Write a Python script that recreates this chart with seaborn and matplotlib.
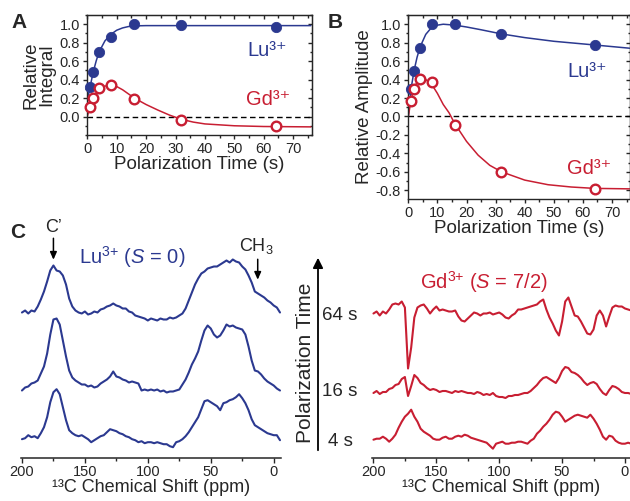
import numpy as np
import matplotlib
matplotlib.use("Agg")
import matplotlib.pyplot as plt
from matplotlib.ticker import MultipleLocator, FixedLocator
from matplotlib.patches import FancyArrowPatch
import seaborn as sns

sns.set_style("ticks")
plt.rcParams["font.family"] = ["Liberation Sans", "DejaVu Sans"]
plt.rcParams["mathtext.fontset"] = "custom"
plt.rcParams["mathtext.rm"] = "Liberation Sans"
plt.rcParams["mathtext.it"] = "Liberation Sans:italic"
plt.rcParams["mathtext.default"] = "regular"

BLUE = "#2B3990"
RED = "#C81E32"

# --- A / B : polarization build-up -------------------------------------
pol_time = [1, 2, 4, 8, 16, 32, 64]
lu_integral = [0.325, 0.48, 0.70, 0.865, 1.0, 0.99, 0.975]
gd_integral = [0.10, 0.20, 0.31, 0.34, 0.19, -0.04, -0.10]
lu_amplitude = [0.30, 0.495, 0.74, 1.0, 1.0, 0.895, 0.776]
gd_amplitude = [0.17, 0.30, 0.41, 0.37, -0.094, -0.60, -0.787]

# fitted curves
lu_fit_a_t = [0, 0.5, 1, 2, 3, 4, 6, 8, 10, 12, 14, 16, 20, 30, 45, 60, 76]
lu_fit_a = [0.17, 0.25, 0.33, 0.48, 0.60, 0.70, 0.82, 0.89, 0.935, 0.96, 0.975,
            0.982, 0.985, 0.985, 0.985, 0.985, 0.985]
gd_fit_a_t = [0, 1, 2, 4, 6, 8, 10, 12, 14, 16, 20, 24, 28, 32, 36, 40, 50, 60, 76]
gd_fit_a = [0.0, 0.12, 0.20, 0.295, 0.33, 0.34, 0.325, 0.29, 0.245, 0.20, 0.13,
            0.07, 0.015, -0.03, -0.06, -0.08, -0.10, -0.108, -0.112]
lu_fit_b_t = [0, 0.5, 1, 2, 3, 4, 6, 8, 10, 12, 16, 20, 25, 32, 40, 50, 64, 76]
lu_fit_b = [0.0, 0.17, 0.31, 0.50, 0.64, 0.75, 0.89, 0.965, 0.99, 1.0, 0.99, 0.97,
            0.94, 0.895, 0.855, 0.815, 0.775, 0.74]
gd_fit_b_t = [0, 1, 2, 3, 4, 6, 8, 10, 12, 14, 15, 16, 20, 24, 28, 32, 40, 48, 56, 64, 76]
gd_fit_b = [0.0, 0.19, 0.31, 0.37, 0.40, 0.40, 0.35, 0.25, 0.13, 0.04, -0.02, -0.08,
            -0.27, -0.42, -0.53, -0.60, -0.69, -0.74, -0.765, -0.78, -0.785]

# --- C : 13C spectra (ppm grid 200 -> -5, step 2.5) -----------------------
ppm = np.arange(200, -5.1, -2.5)
spec_labels = ["4 s", "16 s", "64 s"]

lu_4s = [8, 9, 12, 10, 11, 9, 14, 20, 30, 45,
         55, 58, 53, 40, 27, 17, 14, 12, 11, 12,
         10, 8, 5, 7, 9, 11, 12, 15, 18, 17,
         16, 14, 13, 11, 10, 8, 7, 5, 6, 4,
         5, 5, 4, 5, 4, 3, 3, 1, 0, 5,
         6, 8, 11, 15, 20, 25, 30, 38, 46, 47,
         45, 43, 41, 37, 44, 45, 47, 48, 50, 53,
         49, 44, 37, 28, 22, 20, 18, 16, 14, 13,
         12, 12, 7]
lu_16s = [2, 5, 6, 9, 10, 12, 19, 26, 39, 58,
          73, 74, 68, 52, 36, 22, 15, 12, 10, 8,
          8, 6, 7, 5, 6, 9, 11, 13, 16, 21,
          16, 15, 13, 12, 10, 11, 10, 9, 2, 3,
          2, 3, 2, 3, 1, 2, 0, 1, 1, 2,
          3, 8, 13, 20, 28, 34, 41, 52, 62, 67,
          64, 58, 55, 57, 62, 68, 66, 67, 65, 64,
          63, 58, 46, 32, 22, 21, 18, 14, 11, 9,
          7, 4, 2]
lu_64s = [10, 12, 9, 12, 11, 16, 23, 31, 41, 52,
          57, 52, 51, 47, 38, 24, 16, 12, 10, 9,
          11, 8, 9, 11, 10, 13, 14, 16, 17, 19,
          17, 16, 14, 14, 11, 10, 7, 6, 5, 4,
          2, 4, 3, 2, 4, 3, 3, 5, 4, 5,
          7, 9, 14, 22, 30, 38, 44, 49, 51, 54,
          55, 56, 56, 58, 60, 62, 60, 63, 61, 60,
          56, 53, 47, 40, 31, 29, 27, 25, 22, 20,
          17, 15, 10]
gd_4s = [7, 8, 8, 10, 8, 5, 8, 12, 19, 25,
         30, 33, 37, 30, 25, 18, 15, 13, 11, 8,
         7, 7, 9, 10, 8, 8, 10, 11, 10, 12,
         11, 9, 8, 7, 6, 5, 4, 1, -2, 3,
         4, 5, 3, 3, 4, 4, 5, 5, 4, 3,
         6, 8, 13, 16, 20, 23, 27, 32, 35, 34,
         30, 25, 27, 29, 31, 32, 31, 30, 29, 32,
         28, 23, 17, 10, 7, 11, 10, 6, 4, 3,
         3, 4, 3]
gd_16s = [7, 9, 6, 8, 8, 11, 12, 15, 16, 21,
          23, 4, 14, 25, 22, 17, 15, 12, 10, 11,
          10, 8, 9, 9, 8, 7, 9, 8, 9, 8,
          7, 7, 6, 8, 7, 5, 6, 5, 7, 4,
          3, 3, 2, 4, 4, 5, 5, 6, 7, 7,
          9, 12, 15, 19, 22, 23, 21, 19, 17, 22,
          29, 33, 32, 28, 27, 25, 22, 18, 15, 17,
          18, 16, 11, 7, 5, 10, 14, 13, 11, 8,
          7, 7, 6]
gd_64s = [10, 12, 8, 12, 10, 14, 19, 20, 19, 22,
          16, -45, -24, 6, 16, 18, 19, 15, 10, 14,
          17, 13, 14, 13, 12, 12, 13, 7, 3, 2,
          5, 8, 11, 10, 8, 10, 10, 11, 9, 10,
          11, 9, 6, 5, 8, 10, 14, 14, 15, 16,
          17, 18, 19, 22, 24, 14, 6, 0, -7, -12,
          2, 22, 26, 17, 8, 7, 2, -4, -10, -11,
          -6, 8, 13, 8, -3, 7, 16, 18, 17, 17,
          15, 14, 13]

W, H = 630, 501
fig = plt.figure(figsize=(W / 100, H / 100), dpi=100)


def px_axes(left, top, right, bottom):
    return fig.add_axes([left / W, 1 - bottom / H, (right - left) / W, (bottom - top) / H])


def style_box(ax, ymaj, ymin):
    ax.xaxis.set_major_locator(MultipleLocator(10))
    ax.xaxis.set_minor_locator(MultipleLocator(5))
    ax.yaxis.set_major_locator(FixedLocator(ymaj))
    ax.yaxis.set_minor_locator(MultipleLocator(ymin))
    ax.tick_params(which="both", direction="out", width=1, labelsize=10.5, pad=2)
    ax.tick_params(which="major", length=3.2)
    ax.tick_params(which="minor", length=1.8)
    for s in ax.spines.values():
        s.set_linewidth(1)
    sec_y = ax.secondary_yaxis("right")
    sec_y.yaxis.set_major_locator(FixedLocator(ymaj))
    sec_y.yaxis.set_minor_locator(MultipleLocator(ymin))
    sec_y.tick_params(which="both", direction="in", labelright=False, width=1)
    sec_y.tick_params(which="major", length=3.2)
    sec_y.tick_params(which="minor", length=1.8)
    sec_x = ax.secondary_xaxis("top")
    sec_x.xaxis.set_major_locator(MultipleLocator(10))
    sec_x.xaxis.set_minor_locator(MultipleLocator(5))
    sec_x.tick_params(which="both", direction="in", labeltop=False, width=1)
    sec_x.tick_params(which="major", length=3.2)
    sec_x.tick_params(which="minor", length=1.8)
    ax.axhline(0, color="black", lw=1, ls=(0, (4, 2.5)), zorder=1)
    ax.set_xlabel("Polarization Time (s)", fontsize=13.5, labelpad=0)


def buildup(ax, lu, gd, lu_ft, lu_f, gd_ft, gd_f):
    sns.lineplot(x=lu_ft, y=lu_f, ax=ax, color=BLUE, lw=1.1, zorder=2)
    sns.lineplot(x=gd_ft, y=gd_f, ax=ax, color=RED, lw=1.1, zorder=2)
    sns.scatterplot(x=pol_time, y=lu, ax=ax, color=BLUE, edgecolor=BLUE,
                    s=55, zorder=3, clip_on=False)
    sns.scatterplot(x=pol_time, y=gd, ax=ax, color="white", edgecolor=RED,
                    linewidth=1.7, s=48, zorder=4, clip_on=False)


# panel A
axA = px_axes(87.3, 15, 311.7, 135)
buildup(axA, lu_integral, gd_integral, lu_fit_a_t, lu_fit_a, gd_fit_a_t, gd_fit_a)
axA.set_xlim(0, 76.3)
axA.set_ylim(-0.2, 1.1)
style_box(axA, [0, 0.2, 0.4, 0.6, 0.8, 1.0], 0.1)
axA.yaxis.set_major_formatter(lambda v, p: f"{v:.1f}")
axA.set_ylabel("Relative\nIntegral", fontsize=13.5, linespacing=0.95, labelpad=3)
axA.text(61, 0.71, "Lu³⁺", color=BLUE, fontsize=14.5, ha="center", va="center")
axA.text(61.5, 0.18, "Gd³⁺", color=RED, fontsize=14.5, ha="center", va="center")

# panel B
axB = px_axes(408.3, 15, 629.5, 199)
buildup(axB, lu_amplitude, gd_amplitude, lu_fit_b_t, lu_fit_b, gd_fit_b_t, gd_fit_b)
axB.set_xlim(0, 76)
axB.set_ylim(-0.895, 1.1)
style_box(axB, [-0.8, -0.6, -0.4, -0.2, 0, 0.2, 0.4, 0.6, 0.8, 1.0], 0.1)
axB.yaxis.set_major_formatter(lambda v, p: f"{v:.1f}")
axB.set_ylabel("Relative Amplitude", fontsize=13.5, labelpad=2)
axB.text(61.4, 0.49, "Lu³⁺", color=BLUE, fontsize=14.5, ha="center", va="center")
axB.text(62, -0.56, "Gd³⁺", color=RED, fontsize=14.5, ha="center", va="center")

# panel C
offsets_lu = [10.3, 65, 135]
offsets_gd = [10.8, 57.5, 134]


def spectra_axes(ax, traces, offsets, color, xmax):
    for vals, off in zip(traces, offsets):
        sns.lineplot(x=ppm, y=np.array(vals) + off, ax=ax, color=color, lw=1.5,
                     estimator=None, clip_on=False)
    ax.set_xlim(201, xmax)
    ax.set_ylim(0, 207.5)
    ax.set_yticks([])
    for side in ["left", "right", "top"]:
        ax.spines[side].set_visible(False)
    ax.spines["bottom"].set_linewidth(1.1)
    ax.xaxis.set_major_locator(MultipleLocator(50))
    ax.xaxis.set_minor_locator(MultipleLocator(25))
    ax.tick_params(which="both", direction="out", width=1, labelsize=10.5, pad=2)
    ax.tick_params(which="major", length=3.5)
    ax.tick_params(which="minor", length=2)
    ax.set_xlabel("¹³C Chemical Shift (ppm)", fontsize=13, labelpad=0)


axC1 = px_axes(20.7, 250, 280.5, 457.5)
spectra_axes(axC1, [lu_4s, lu_16s, lu_64s], offsets_lu, BLUE, -5.4)
axC2 = px_axes(372.2, 250, 630, 457.5)
spectra_axes(axC2, [gd_4s, gd_16s, gd_64s], offsets_gd, RED, -4)

arrow_kw = dict(arrowstyle="-|>,head_length=0.45,head_width=0.2", color="black", lw=1.1)
axC1.annotate("", xy=(175, 195), xytext=(175, 222), arrowprops=arrow_kw, annotation_clip=False)
axC1.text(175, 229.5, "C’", fontsize=13, ha="center", va="center")
axC1.annotate("", xy=(12.7, 175), xytext=(12.7, 201), arrowprops=arrow_kw, annotation_clip=False)
axC1.text(14, 211.5, "CH$_3$", fontsize=13, ha="center", va="center")
axC1.text(112.6, 200, "Lu$^{3{+}}$ ($\\it{S}$ = 0)", color=BLUE, fontsize=14.5,
          ha="center", va="center")
axC2.text(112.6, 175.5, "Gd$^{3{+}}$ ($\\it{S}$ = 7/2)", color=RED, fontsize=14.5,
          ha="center", va="center")

# polarization-time arrow and time labels
fig.add_artist(FancyArrowPatch((318 / W, 1 - 453 / H), (318 / W, 1 - 255 / H),
                               transform=fig.transFigure, color="black", lw=1.3,
                               arrowstyle="-|>,head_length=6,head_width=3"))
fig.text(305.5 / W, 1 - 363 / H, "Polarization Time", rotation=90, fontsize=15,
         ha="center", va="center")
for lab, y in zip(spec_labels, [441.7, 392, 315]):
    fig.text(340 / W, 1 - y / H, lab, fontsize=13.5, ha="center", va="center")

# panel letters
for lab, x, y in [("A", 19, 22.5), ("B", 335, 22.5), ("C", 18, 232.5)]:
    fig.text(x / W, 1 - y / H, lab, fontsize=15, fontweight="bold", ha="center", va="center")

fig.savefig("out.png", dpi=100)
